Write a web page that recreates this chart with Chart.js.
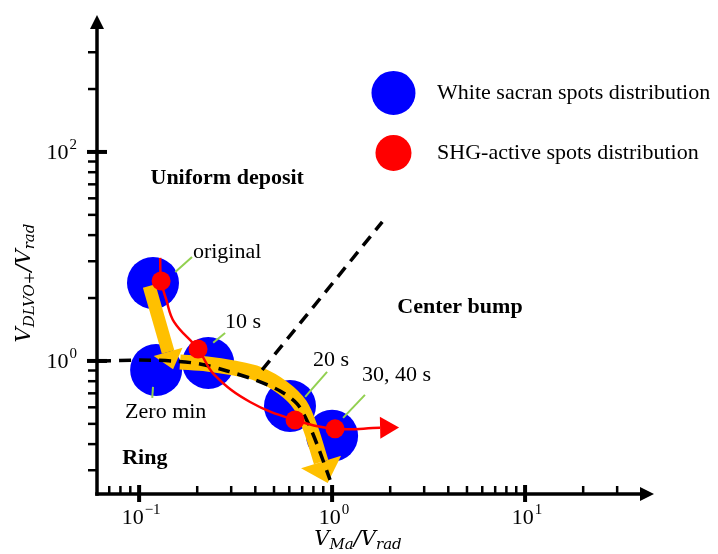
<!DOCTYPE html>
<html><head><meta charset="utf-8">
<script src="https://cdn.jsdelivr.net/npm/chart.js@4/dist/chart.umd.min.js"></script>
<style>html,body{margin:0;padding:0;background:#fff;} #wrap{width:718px;height:554px;}</style>
</head><body><div id="wrap"><canvas id="c" width="718" height="554"></canvas></div>
<script>
// ---- axis ranges & ticks ----
const xRange = [0.0605, 39.4];
const yRange = [0.0533, 1469];
const xTickValues = [0.07,0.08,0.09,0.1,0.2,0.3,0.4,0.5,0.6,0.7,0.8,0.9,1,2,3,4,5,6,7,8,9,10,20,30];
const xMajorTicks = [0.1, 1, 10];
const xTickExponents = ['−1', '0', '1'];
const yTickValues = [0.09,0.16,0.25,0.36,0.49,0.64,0.81,1,4,9,16,25,36,49,64,81,100,400,900];
const yMajorTicks = [1, 100];
const yTickExponents = ['0', '2'];

// ---- white sacran spots (blue) ----
const whiteSacranStages = ['original', 'Zero min', '10 s', '20 s', '30, 40 s'];
const whiteSacranX = [0.118, 0.1225, 0.228, 0.605, 1.0];
const whiteSacranY = [5.58, 0.82, 0.957, 0.371, 0.192];

// ---- SHG-active spots (red) ----
const shgStages = ['original', '10 s', '20 s', '30, 40 s'];
const shgX = [0.130, 0.202, 0.643, 1.036];
const shgY = [5.83, 1.30, 0.272, 0.224];
const shgPathX = [0.1285, 0.130, 0.138, 0.152, 0.202, 0.245, 0.376, 0.643, 1.036, 1.773];
const shgPathY = [9.68, 5.83, 3.9, 2.35, 1.30, 0.74, 0.405, 0.272, 0.224, 0.229];

// ---- regime boundaries (dashed) ----
const ringBoundaryX = [0.062, 0.101, 0.148, 0.207, 0.286, 0.399, 0.538, 0.659, 0.751, 0.846, 0.976];
const ringBoundaryY = [1.0, 1.02, 1.0, 0.936, 0.802, 0.658, 0.516, 0.388, 0.255, 0.150, 0.0727];
const bumpBoundaryX = [0.434, 1.82];
const bumpBoundaryY = [0.82, 21.4];

// ---- trend arrows (yellow) ----
const trendAX = [0.1127, 0.1413];
const trendAY = [5.22, 1.22];
const trendBX = [0.163, 0.225, 0.307, 0.414, 0.557, 0.683, 0.778, 0.877];
const trendBY = [0.978, 0.936, 0.857, 0.751, 0.552, 0.379, 0.219, 0.108];

// ---- text annotations ----
const regionNames = ['Uniform deposit', 'Center bump', 'Ring'];
const regionX = [0.286, 4.6, 0.107];
const regionY = [56.4, 3.29, 0.118];
const noteText = ['original', '10 s', '20 s', '30, 40 s', 'Zero min'];
const noteX = [0.19, 0.279, 0.797, 1.43, 0.0846];
const noteY = [11.0, 2.36, 1.02, 0.734, 0.325];
const leaderFromX = [0.154, 0.242, 0.725, 1.14, 0.118];
const leaderFromY = [7.11, 1.49, 0.453, 0.285, 0.564];
const leaderToX = [0.188, 0.279, 0.942, 1.48, 0.117];
const leaderToY = [9.89, 1.85, 0.785, 0.473, 0.443];
const legendMarkX = 2.08, legendTextX = 3.5;
const legendY = [367, 97.8];

const toPts = (xs, ys) => xs.map((x, i) => ({x: x, y: ys[i]}));

function drawMath(ctx, parts, cx, cy, rot) {
  ctx.save();
  ctx.translate(cx, cy); ctx.rotate(rot);
  const big = 'italic 21px "DejaVu Serif"', small = 'italic 15px "DejaVu Serif"';
  let w = 0;
  parts.forEach(p => { ctx.font = p.sub ? small : big; p.w = ctx.measureText(p.t).width; w += p.w; });
  let x = -w / 2;
  ctx.fillStyle = '#000'; ctx.textBaseline = 'alphabetic'; ctx.textAlign = 'left';
  parts.forEach(p => { ctx.font = p.sub ? small : big; ctx.fillText(p.t, x, p.sub ? 11 : 7); x += p.w; });
  ctx.restore();
}

// "10" with a raised exponent; align: 'center' or 'right'
function drawPow(ctx, exp, px, py, align) {
  const big = '22px "Liberation Serif"', small = '15px "Liberation Serif"';
  ctx.font = big; const wb = ctx.measureText('10').width;
  ctx.font = small; const we = ctx.measureText(exp).width;
  const total = wb + we + 1;
  const x0 = align === 'center' ? px - total / 2 : px - total;
  ctx.textAlign = 'left'; ctx.textBaseline = 'alphabetic'; ctx.fillStyle = '#000';
  ctx.font = big; ctx.fillText('10', x0, py + 7);
  ctx.font = small; ctx.fillText(exp, x0 + wb + 1, py - 3);
}

const custom = {
  id: 'custom',
  afterDatasetDraw(chart, args) {
    const ds = chart.data.datasets[args.index];
    if (!ds.arrowHead) return;
    const ctx = chart.ctx;
    const pts = args.meta.data, n = pts.length;
    const a = pts[n - 2], b = pts[n - 1];
    const dx = b.x - a.x, dy = b.y - a.y, L = Math.hypot(dx, dy);
    const ux = dx / L, uy = dy / L;
    const len = ds.arrowHead.length, hw = ds.arrowHead.half;
    ctx.save();
    ctx.fillStyle = ds.borderColor;
    ctx.beginPath();
    ctx.moveTo(b.x + ux * len, b.y + uy * len);
    ctx.lineTo(b.x - uy * hw, b.y + ux * hw);
    ctx.lineTo(b.x + uy * hw, b.y - ux * hw);
    ctx.closePath(); ctx.fill();
    ctx.restore();
  },
  afterDraw(chart) {
    const {ctx, chartArea: ca, scales: {x, y}} = chart;
    const line = (x1, y1, x2, y2) => { ctx.beginPath(); ctx.moveTo(x1, y1); ctx.lineTo(x2, y2); ctx.stroke(); };
    ctx.save();
    ctx.strokeStyle = '#000'; ctx.fillStyle = '#000'; ctx.lineCap = 'butt';
    // axes
    ctx.lineWidth = 3.5;
    line(ca.left, ca.bottom + 1.75, ca.left, ca.top - 2);
    line(ca.left - 1.75, ca.bottom, ca.right, ca.bottom);
    ctx.beginPath(); ctx.moveTo(ca.left, ca.top - 15); ctx.lineTo(ca.left - 7, ca.top - 1); ctx.lineTo(ca.left + 7, ca.top - 1); ctx.closePath(); ctx.fill();
    ctx.beginPath(); ctx.moveTo(ca.right + 14, ca.bottom); ctx.lineTo(ca.right, ca.bottom - 7); ctx.lineTo(ca.right, ca.bottom + 7); ctx.closePath(); ctx.fill();
    // ticks
    y.ticks.forEach(t => {
      const py = y.getPixelForValue(t.value);
      const mi = yMajorTicks.indexOf(t.value);
      if (mi >= 0) { ctx.lineWidth = 4; line(ca.left - 10, py, ca.left + 10, py); drawPow(ctx, yTickExponents[mi], ca.left - 20, py, 'right'); }
      else { ctx.lineWidth = 2.5; line(ca.left - 9, py, ca.left, py); }
    });
    x.ticks.forEach(t => {
      const px = x.getPixelForValue(t.value);
      const mi = xMajorTicks.indexOf(t.value);
      if (mi >= 0) { ctx.lineWidth = 4; line(px, ca.bottom - 9, px, ca.bottom + 8); drawPow(ctx, xTickExponents[mi], px + 2, ca.bottom + 23, 'center'); }
      else { ctx.lineWidth = 2.5; line(px, ca.bottom - 8, px, ca.bottom); }
    });
    // leader lines
    ctx.strokeStyle = '#92D050'; ctx.lineWidth = 2;
    leaderFromX.forEach((v, i) => line(x.getPixelForValue(v), y.getPixelForValue(leaderFromY[i]), x.getPixelForValue(leaderToX[i]), y.getPixelForValue(leaderToY[i])));
    // notes
    ctx.fillStyle = '#000'; ctx.textBaseline = 'middle'; ctx.textAlign = 'left';
    ctx.font = '22px "Liberation Serif"';
    noteText.forEach((s, i) => ctx.fillText(s, x.getPixelForValue(noteX[i]), y.getPixelForValue(noteY[i])));
    ctx.font = 'bold 22px "Liberation Serif"'; ctx.textAlign = 'center';
    regionNames.forEach((s, i) => ctx.fillText(s, x.getPixelForValue(regionX[i]), y.getPixelForValue(regionY[i])));
    // legend
    const dsets = chart.data.datasets;
    const legendItems = [dsets[6], dsets[0]];
    const radii = [22, 18];
    legendItems.forEach((d, i) => {
      const px = x.getPixelForValue(legendMarkX), py = y.getPixelForValue(legendY[i]);
      ctx.fillStyle = d.pointBackgroundColor;
      ctx.beginPath(); ctx.arc(px, py, radii[i], 0, Math.PI * 2); ctx.fill();
      ctx.fillStyle = '#000'; ctx.textAlign = 'left'; ctx.textBaseline = 'middle'; ctx.font = '22px "Liberation Serif"';
      ctx.fillText(d.label, x.getPixelForValue(legendTextX), py);
    });
    ctx.restore();
    // axis titles
    drawMath(ctx, [{t: 'V'}, {t: 'Ma', sub: true}, {t: '/V'}, {t: 'rad', sub: true}], 358, 538, 0);
    drawMath(ctx, [{t: 'V'}, {t: 'DLVO+', sub: true}, {t: '/V'}, {t: 'rad', sub: true}], 23, 283, -Math.PI / 2);
  }
};

new Chart(document.getElementById('c').getContext('2d'), {
  type: 'scatter',
  data: {datasets: [
    {label: 'SHG-active spots distribution', data: toPts(shgX, shgY), showLine: false, pointRadius: 9.5, pointBackgroundColor: '#FF0000', pointBorderWidth: 0, order: 0},
    {label: 'SHG trajectory', data: toPts(shgPathX, shgPathY), showLine: true, borderColor: '#FF0000', borderWidth: 2.5, pointRadius: 0, tension: 0.4, arrowHead: {length: 19, half: 11}, order: 1},
    {label: 'Ring boundary', data: toPts(ringBoundaryX, ringBoundaryY), showLine: true, borderColor: '#000', borderWidth: 3.5, borderDash: [12, 8], pointRadius: 0, tension: 0.3, order: 2},
    {label: 'Center bump boundary', data: toPts(bumpBoundaryX, bumpBoundaryY), showLine: true, borderColor: '#000', borderWidth: 3.5, borderDash: [12, 8], pointRadius: 0, order: 2},
    {label: 'Trend B', data: toPts(trendBX, trendBY), showLine: true, borderColor: '#FFC000', borderWidth: 15, pointRadius: 0, tension: 0.3, arrowHead: {length: 22, half: 21}, order: 3},
    {label: 'Trend A', data: toPts(trendAX, trendAY), showLine: true, borderColor: '#FFC000', borderWidth: 13, pointRadius: 0, arrowHead: {length: 18, half: 15}, order: 3},
    {label: 'White sacran spots distribution', data: toPts(whiteSacranX, whiteSacranY), showLine: false, pointRadius: 26, pointBackgroundColor: '#0000FF', pointBorderWidth: 0, order: 4}
  ]},
  options: {
    responsive: false, animation: false, events: [],
    layout: {padding: {top: 30, right: 78, left: 0, bottom: 0}},
    plugins: {legend: {display: false}, tooltip: {enabled: false}},
    scales: {
      x: {type: 'logarithmic', min: xRange[0], max: xRange[1],
        afterFit: s => { s.height = 60; },
        afterBuildTicks: s => { s.ticks = xTickValues.map(v => ({value: v})); },
        grid: {display: false, drawTicks: false}, border: {display: false},
        ticks: {display: false, autoSkip: false}},
      y: {type: 'logarithmic', min: yRange[0], max: yRange[1],
        afterFit: s => { s.width = 97; },
        afterBuildTicks: s => { s.ticks = yTickValues.map(v => ({value: v})); },
        grid: {display: false, drawTicks: false}, border: {display: false},
        ticks: {display: false, autoSkip: false}}
    }
  },
  plugins: [custom]
});
</script></body></html>
